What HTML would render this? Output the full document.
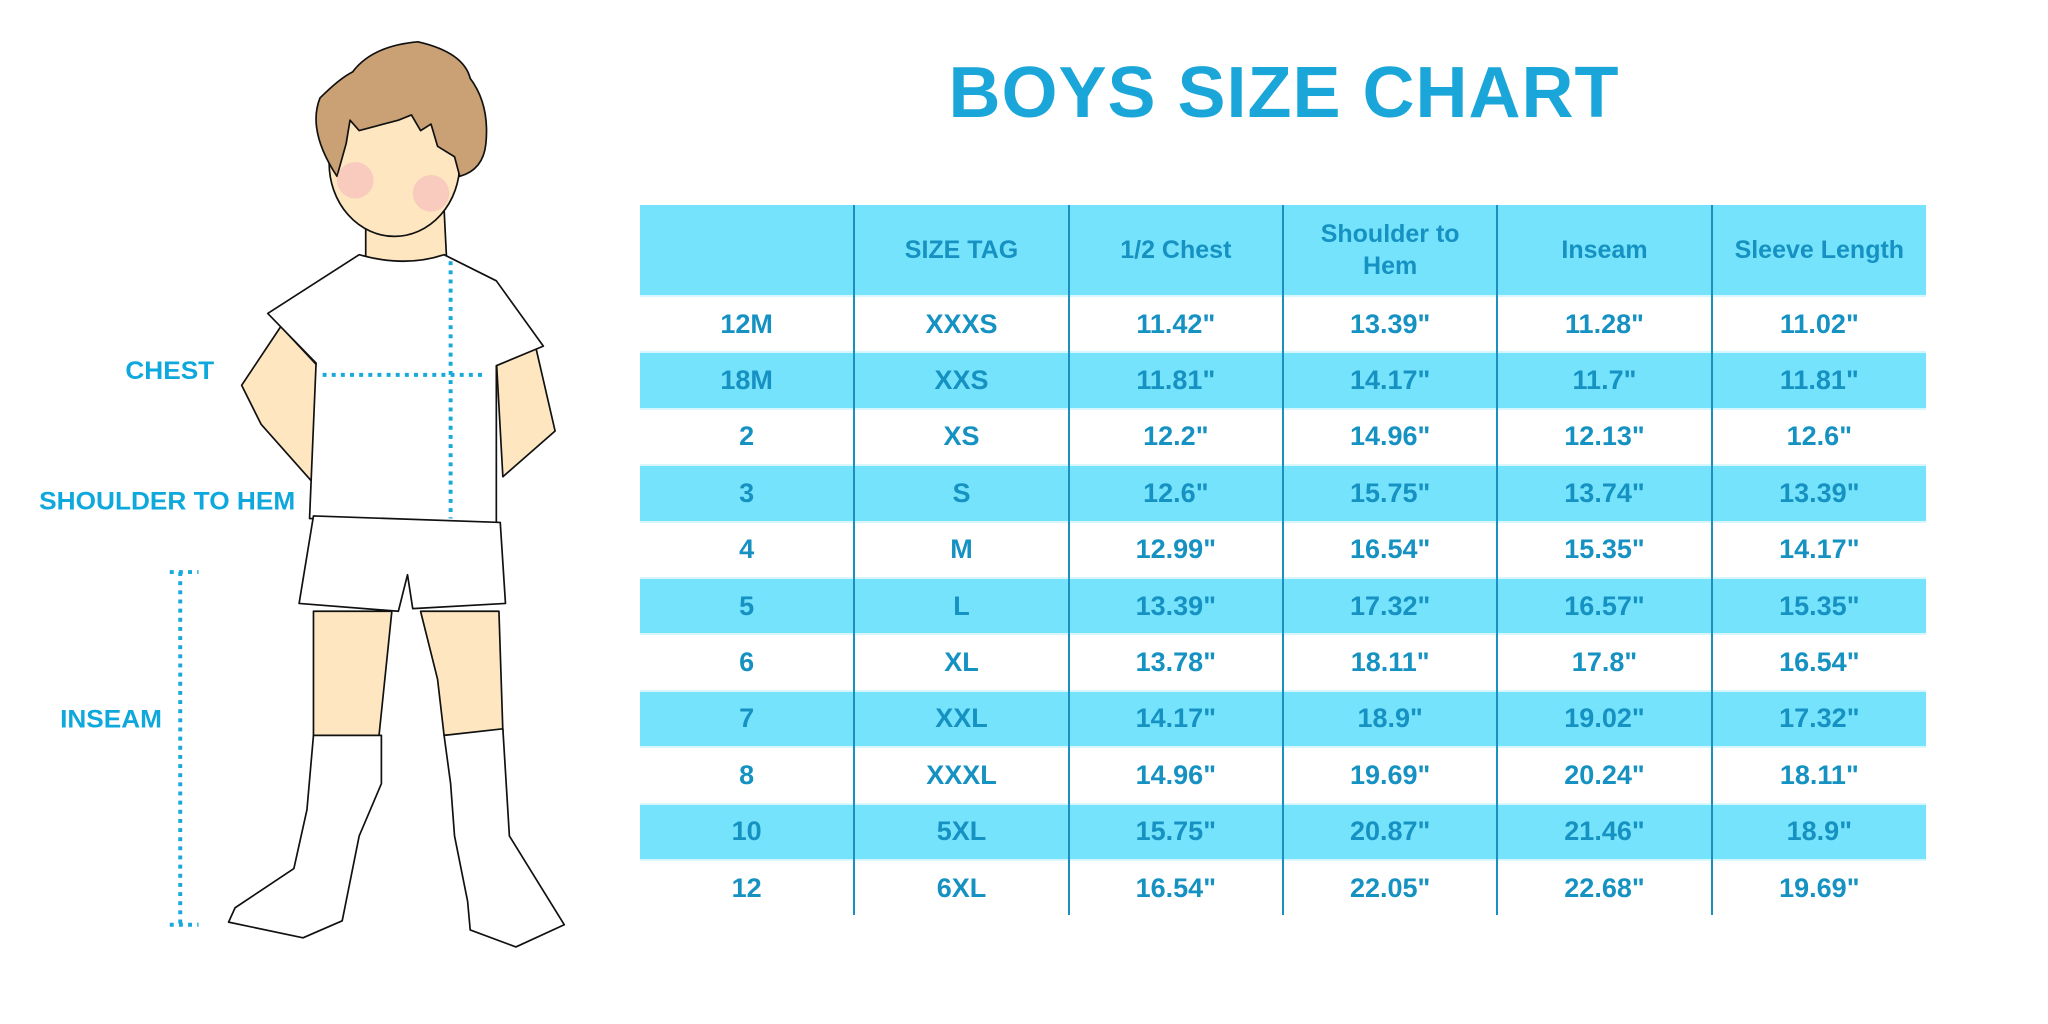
<!DOCTYPE html>
<html><head><meta charset="utf-8"><style>
html,body{margin:0;padding:0;background:#fff;width:2048px;height:1024px;overflow:hidden;position:relative;font-family:"Liberation Sans",sans-serif}
.title{position:absolute;left:320px;width:1928px;top:52px;text-align:center;font-size:72px;font-weight:bold;color:#1ba6da;letter-spacing:1px}
table{position:absolute;left:640px;top:205px;width:1286px;border-collapse:collapse;table-layout:fixed}
td{height:54.4px;text-align:center;color:#1591c2;font-weight:bold;font-size:27px;padding:0;border-left:2px solid #1a8fc0;border-right:2px solid #1a8fc0}
td:first-child{border-left:none}td:last-child{border-right:none}
tr.b td{background:#76e3fd}
tr.h td{height:90px;font-size:25px;line-height:32px}
tr.b+tr td, tr+tr.b td{border-top:2px solid #d8f6fe}
</style></head><body>
<div class="title">BOYS SIZE CHART</div>
<table>
<tr class="h b"><td></td><td>SIZE TAG</td><td>1/2 Chest</td><td>Shoulder to<br>Hem</td><td>Inseam</td><td>Sleeve Length</td></tr>
<tr><td>12M</td><td>XXXS</td><td>11.42"</td><td>13.39"</td><td>11.28"</td><td>11.02"</td></tr>
<tr class="b"><td>18M</td><td>XXS</td><td>11.81"</td><td>14.17"</td><td>11.7"</td><td>11.81"</td></tr>
<tr><td>2</td><td>XS</td><td>12.2"</td><td>14.96"</td><td>12.13"</td><td>12.6"</td></tr>
<tr class="b"><td>3</td><td>S</td><td>12.6"</td><td>15.75"</td><td>13.74"</td><td>13.39"</td></tr>
<tr><td>4</td><td>M</td><td>12.99"</td><td>16.54"</td><td>15.35"</td><td>14.17"</td></tr>
<tr class="b"><td>5</td><td>L</td><td>13.39"</td><td>17.32"</td><td>16.57"</td><td>15.35"</td></tr>
<tr><td>6</td><td>XL</td><td>13.78"</td><td>18.11"</td><td>17.8"</td><td>16.54"</td></tr>
<tr class="b"><td>7</td><td>XXL</td><td>14.17"</td><td>18.9"</td><td>19.02"</td><td>17.32"</td></tr>
<tr><td>8</td><td>XXXL</td><td>14.96"</td><td>19.69"</td><td>20.24"</td><td>18.11"</td></tr>
<tr class="b"><td>10</td><td>5XL</td><td>15.75"</td><td>20.87"</td><td>21.46"</td><td>18.9"</td></tr>
<tr><td>12</td><td>6XL</td><td>16.54"</td><td>22.05"</td><td>22.68"</td><td>19.69"</td></tr>
</table>
<svg style="position:absolute;left:0;top:0" width="2048" height="1024" viewBox="0 0 1568 784">
<g stroke="#111" stroke-width="1.3" stroke-linejoin="round">
<path d="M280,160 L340,160 L342,200 L280,200Z" fill="#fde6c0"/>
<path d="M215,250 L185,295 L200,325 L240,370 L243,280Z" fill="#fde6c0"/>
<path d="M380,275 L410,265 L425,330 L385,365Z" fill="#fde6c0"/>
<path d="M205,240 L275,195 Q310,205 340,195 L380,215 L416,265 L380,280 L380,400 L237,397 L242,278Z" fill="#fff"/>
<path d="M240,468 L300,468 L290,565 L240,565Z" fill="#fde6c0"/>
<path d="M322,468 L382,468 L385,560 L340,563 L335,520Z" fill="#fde6c0"/>
<path d="M240,395 L383,400 L387,462 L316,466 L312,440 L305,468 L229,462Z" fill="#fff"/>
<path d="M240,563 L292,563 L292,600 L275,640 L262,705 L232,718 L175,706 L180,695 L225,665 L235,620Z" fill="#fff"/>
<path d="M340,563 L385,558 L390,640 L432,708 L395,725 L360,712 L358,690 L348,640 L345,600Z" fill="#fff"/>
<ellipse cx="302" cy="125" rx="50" ry="56" fill="#fde6c0"/>
<path d="M258,135 Q235,100 245,75 Q260,60 270,55 Q285,35 320,32 Q355,40 360,60 Q375,80 372,110 Q370,130 352,135 L348,120 L335,112 L330,95 L322,100 L315,88 L305,92 L275,100 L268,92 L265,110Z" fill="#c9a174"/>
</g>
<circle cx="272" cy="138" r="14" fill="#f7b9bd" opacity=".6"/>
<circle cx="330" cy="148" r="14" fill="#f7b9bd" opacity=".6"/>
<g stroke="#17a9dc" stroke-width="3" stroke-dasharray="3 4" fill="none">
<path d="M247,287 H372"/><path d="M345,200 V397"/>
<path d="M138,438 V708"/><path d="M130,438 H152"/><path d="M130,708 H152"/>
</g>
<g fill="#0fa8dc" font-family="Liberation Sans,sans-serif" font-weight="bold" font-size="19">
<text x="96" y="290" textLength="68" lengthAdjust="spacingAndGlyphs">CHEST</text>
<text x="30" y="390" textLength="196" lengthAdjust="spacingAndGlyphs">SHOULDER TO HEM</text>
<text x="46" y="557" textLength="78" lengthAdjust="spacingAndGlyphs">INSEAM</text>
</g>
</svg>
</body></html>
